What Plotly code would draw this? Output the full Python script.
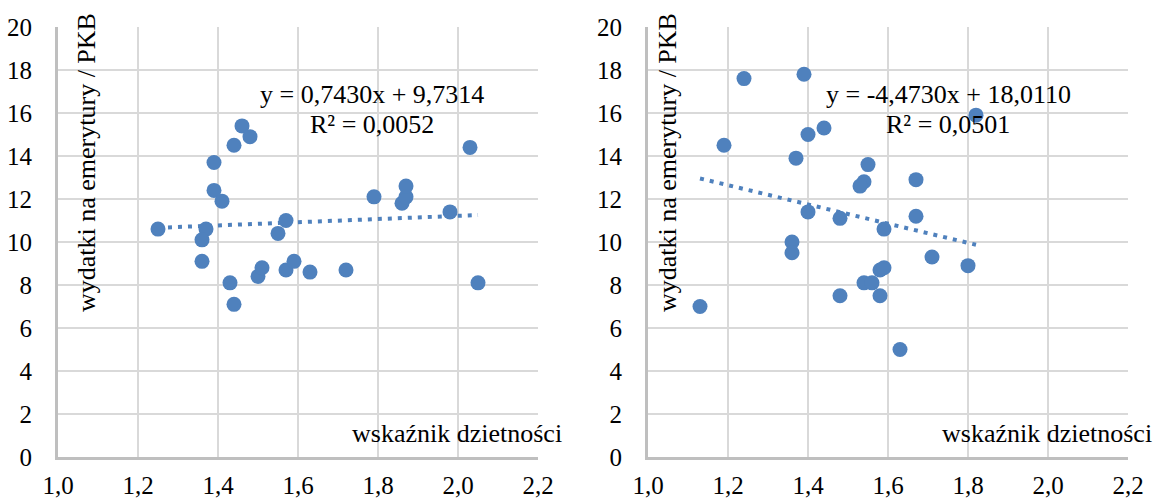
import plotly.graph_objects as go

# ---- data ----
left_x = [1.25, 1.37, 1.36, 1.36, 1.39, 1.39, 1.41, 1.44, 1.46, 1.48, 1.55, 1.57, 1.79, 1.86,
          1.87, 1.87, 1.98, 2.03, 1.43, 1.44, 1.50, 1.51, 1.57, 1.59, 1.63, 1.72, 2.05]
left_y = [10.6, 10.6, 10.1, 9.1, 13.7, 12.4, 11.9, 14.5, 15.4, 14.9, 10.4, 11.0, 12.1, 11.8,
          12.1, 12.6, 11.4, 14.4, 8.1, 7.1, 8.4, 8.8, 8.7, 9.1, 8.6, 8.7, 8.1]

right_x = [1.19, 1.24, 1.39, 1.37, 1.40, 1.44, 1.40, 1.48, 1.55, 1.54, 1.53, 1.59, 1.67, 1.67,
           1.82, 1.36, 1.36, 1.13, 1.48, 1.54, 1.56, 1.58, 1.58, 1.59, 1.63, 1.71, 1.80]
right_y = [14.5, 17.6, 17.8, 13.9, 15.0, 15.3, 11.4, 11.1, 13.6, 12.8, 12.6, 10.6, 11.2, 12.9,
           15.9, 10.0, 9.5, 7.0, 7.5, 8.1, 8.1, 7.5, 8.7, 8.8, 5.0, 9.3, 8.9]

slopes = [0.7430, -4.4730]
intercepts = [9.7314, 18.0110]
eq_labels = ["y = 0,7430x + 9,7314", "y = -4,4730x + 18,0110"]
r2_labels = ["R² = 0,0052", "R² = 0,0501"]
x_title = "wskaźnik dzietności"
y_title = "wydatki na emerytury / PKB"

# ---- style ----
W, H = 1155, 501
BLUE = "#4f81bd"
FONT = "Liberation Serif"
GRID = "#d9d9d9"
AXLINE = "#bfbfbf"

# plot areas in pixels (x0, x1), shared y (top, bottom)
areas = [(58, 538), (648, 1128)]
top_px, bot_px = 27, 457

fig = go.Figure()
datasets = [(left_x, left_y), (right_x, right_y)]

for i, (xs, ys) in enumerate(datasets):
    xa = "x" if i == 0 else "x2"
    ya = "y" if i == 0 else "y2"
    x0, x1 = min(xs), max(xs)
    fig.add_trace(go.Scatter(
        x=[x0, x1], y=[slopes[i] * x0 + intercepts[i], slopes[i] * x1 + intercepts[i]],
        mode="lines", xaxis=xa, yaxis=ya,
        line=dict(color=BLUE, width=4, dash="4px,6px"),
        showlegend=False, hoverinfo="skip"))
    fig.add_trace(go.Scatter(
        x=xs, y=ys, mode="markers", xaxis=xa, yaxis=ya,
        marker=dict(size=15, color=BLUE, line=dict(width=0)),
        showlegend=False, hoverinfo="skip"))

axis_common_x = dict(range=[1.0, 2.2], dtick=0.2, tick0=1.0, tickformat=".1f",
                     showgrid=True, gridcolor=GRID, gridwidth=2,
                     showline=True, linecolor=AXLINE, linewidth=3,
                     zeroline=False, ticks="", ticklabelstandoff=4, automargin=False,
                     tickfont=dict(family=FONT, size=25, color="black"))
axis_common_y = dict(range=[0, 20], dtick=2, tick0=0,
                     showgrid=True, gridcolor=GRID, gridwidth=2,
                     showline=True, linecolor=AXLINE, linewidth=3,
                     zeroline=False, ticks="", ticklabelstandoff=18, automargin=False,
                     tickfont=dict(family=FONT, size=25, color="black"))

ydom = [1 - bot_px / H, 1 - top_px / H]
fig.update_layout(
    width=W, height=H,
    margin=dict(l=0, r=0, t=0, b=0, autoexpand=False),
    paper_bgcolor="white", plot_bgcolor="white",
    separators=", ",
    font=dict(family=FONT, color="black"),
    xaxis=dict(domain=[areas[0][0] / W, areas[0][1] / W], anchor="y", **axis_common_x),
    yaxis=dict(domain=ydom, anchor="x", **axis_common_y),
    xaxis2=dict(domain=[areas[1][0] / W, areas[1][1] / W], anchor="y2", **axis_common_x),
    yaxis2=dict(domain=ydom, anchor="x2", **axis_common_y),
)

# annotations
eq_pos = [(1.785, 16.86, 15.47), (1.75, 16.86, 15.47)]
ytitle_px = [87, 668]
xtitle_px = [457, 1047]
for i in range(2):
    xr = "x" if i == 0 else "x2"
    yr = "y" if i == 0 else "y2"
    ex, ey1, ey2 = eq_pos[i]
    fig.add_annotation(x=ex, y=ey1, xref=xr, yref=yr, text=eq_labels[i], showarrow=False,
                       xanchor="center", yanchor="middle",
                       font=dict(family=FONT, size=26, color="black"))
    fig.add_annotation(x=ex, y=ey2, xref=xr, yref=yr, text=r2_labels[i], showarrow=False,
                       xanchor="center", yanchor="middle",
                       font=dict(family=FONT, size=26, color="black"))
    fig.add_annotation(x=ytitle_px[i] / W, y=1 - 163 / H, xref="paper", yref="paper",
                       text=y_title, textangle=-90, showarrow=False,
                       xanchor="center", yanchor="middle",
                       font=dict(family=FONT, size=26, color="black"))
    fig.add_annotation(x=xtitle_px[i] / W, y=1 - 433 / H, xref="paper", yref="paper",
                       text=x_title, showarrow=False,
                       xanchor="center", yanchor="middle",
                       font=dict(family=FONT, size=26, color="black"))

fig.write_html("out.html")
